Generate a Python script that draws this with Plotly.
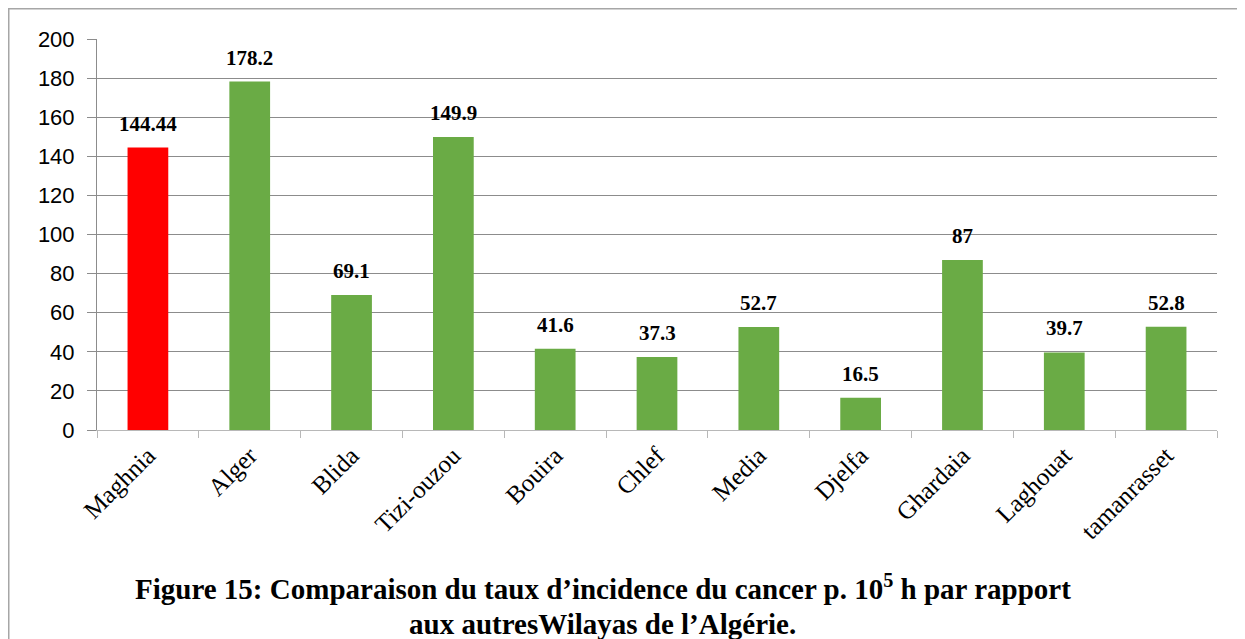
import plotly.graph_objects as go

categories = ["Maghnia", "Alger", "Blida", "Tizi-ouzou", "Bouira", "Chlef", "Media",
              "Djelfa", "Ghardaia", "Laghouat", "tamanrasset"]
values = [144.44, 178.2, 69.1, 149.9, 41.6, 37.3, 52.7, 16.5, 87, 39.7, 52.8]
labels = ["144.44", "178.2", "69.1", "149.9", "41.6", "37.3", "52.7", "16.5", "87", "39.7", "52.8"]
y_ticks = [0, 20, 40, 60, 80, 100, 120, 140, 160, 180, 200]
title_line1 = "Figure 15: Comparaison du taux d\u2019incidence du cancer p. 10<sup>5</sup> h par rapport"
title_line2 = "aux autresWilayas de l\u2019Alg\u00e9rie."

colors = ["#ff0000"] + ["#6aab45"] * (len(categories) - 1)

# figure sits at an 8px body offset in the page
W, H = 1237, 631
ml, mr, mt, mb = 89, 28, 31, 209
pw = W - ml - mr
ph = H - mt - mb

def px_x(p):
    return (p - ml) / pw

def px_y(p):
    return (H - mb - p) / ph

fig = go.Figure()
fig.add_trace(go.Bar(
    x=categories, y=values,
    marker=dict(color=colors, line=dict(width=0)),
    hoverinfo="x+y",
))

for c, v, t in zip(categories, values, labels):
    fig.add_annotation(x=c, y=v, text="<b>" + t + "</b>", showarrow=False,
                       yanchor="bottom", yshift=10,
                       font=dict(family="Liberation Serif", size=21, color="#000000"))

fig.add_shape(type="rect", xref="paper", yref="paper",
              x0=px_x(0.75), x1=px_x(1260), y0=px_y(660), y1=px_y(0.75),
              line=dict(color="#a6a6a6", width=1.5), fillcolor="rgba(0,0,0,0)", layer="below")

fig.add_annotation(
    xref="paper", yref="paper", x=px_x(595), y=px_y(579), xanchor="center", yanchor="middle",
    text="<b>" + title_line1 + "</b>", showarrow=False,
    font=dict(family="Liberation Serif", size=29, color="#000000"),
)
fig.add_annotation(
    xref="paper", yref="paper", x=px_x(594), y=px_y(616), xanchor="center", yanchor="middle",
    text="<b>" + title_line2 + "</b>", showarrow=False,
    font=dict(family="Liberation Serif", size=29, color="#000000"),
)

fig.update_layout(
    width=W, height=H,
    margin=dict(l=ml, r=mr, t=mt, b=mb, autoexpand=False),
    paper_bgcolor="white", plot_bgcolor="white",
    bargap=0.6, showlegend=False,
    font=dict(family="Liberation Serif", color="#000000"),
)
fig.update_xaxes(
    type="category", tickangle=-45,
    tickfont=dict(family="Liberation Serif", size=25, color="#000000"),
    showline=True, linecolor="#b8b8b8", linewidth=1,
    ticks="outside", ticklen=7, tickcolor="#b8b8b8", tickson="boundaries",
    showgrid=False,
)
fig.update_yaxes(
    range=[0, 200], tickvals=y_ticks,
    tickfont=dict(family="Liberation Sans", size=22, color="#000000"),
    showgrid=True, gridcolor="#8c8c8c", gridwidth=1,
    showline=True, linecolor="#8c8c8c", linewidth=1,
    ticks="outside", ticklen=9, tickcolor="#8c8c8c",
    ticklabelstandoff=8,
    zeroline=False,
)

fig.write_html("out.html")
